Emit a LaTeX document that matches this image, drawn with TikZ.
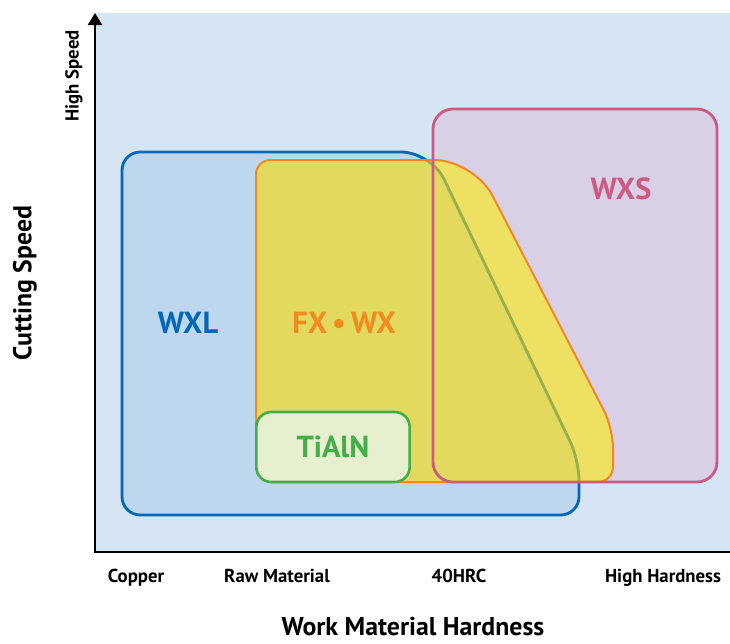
\documentclass[tikz,border=0pt]{standalone}
\usepackage{fontspec}
\setmainfont{PT Sans}
\usetikzlibrary{arrows.meta, positioning}
\definecolor{chartbg}{HTML}{D6E5F4}
\definecolor{wxlfill}{HTML}{BDD7EE}
\definecolor{wxlline}{HTML}{0068B6}
\definecolor{fxlight}{HTML}{EEE062}
\definecolor{fxdark}{HTML}{E3D95E}
\definecolor{fxline}{HTML}{F28A1E}
\definecolor{fxolive}{HTML}{9AAE4A}
\definecolor{wxsfill}{HTML}{DAD0E6}
\definecolor{wxsline}{HTML}{CD5A84}
\definecolor{tialnfill}{HTML}{E6F0CF}
\definecolor{tialnline}{HTML}{45AD4A}
\tikzset{
  zonelabel/.style={font=\bfseries\fontsize{26}{30}\selectfont, inner sep=0pt, anchor=base},
  ticklabel/.style={font=\bfseries\fontsize{16}{19}\selectfont, inner sep=0pt, anchor=base},
  axistitle/.style={font=\bfseries\fontsize{22}{26}\selectfont, inner sep=0pt, anchor=base},
  axisline/.style={line width=1.8pt, black},
  zoneline/.style={line width=2.4pt},
  tialnbox/.style={rectangle, rounded corners=0.45cm, draw=tialnline, fill=tialnfill, line width=2.2pt,
    minimum width=4.6cm, minimum height=2.1cm, text=tialnline, zonelabel, anchor=center},
}
\newcommand{\wxlshape}{(122,330) [rounded corners=0.55cm] -- (122,152) [rounded corners=0.9cm] -- (431,152)
  [rounded corners=0.6cm] -- (579,460) [rounded corners=0.55cm] -- (579,515) -- (122,515) -- cycle}
\newcommand{\fxshape}{(256,320) [rounded corners=0.42cm] -- (256,160) [rounded corners=1.2cm] -- (474,160)
  [rounded corners=0.6cm] -- (613,428) [rounded corners=0.45cm] -- (613,482) -- (256,482) -- cycle}

\begin{document}
\begin{tikzpicture}[x=0.03cm, y=-0.03cm]
  \useasboundingbox (0,0) rectangle (730,643);
  \fill[chartbg] (95,13) rectangle (730,552);

  \fill[wxsfill, rounded corners=0.6cm] (433,109) rectangle (717,482);
  \filldraw[wxlline, fill=wxlfill, zoneline] \wxlshape;
  \fill[fxlight] \fxshape;
  \begin{scope}
    \clip \wxlshape;
    \fill[fxdark] \fxshape;
  \end{scope}
  \begin{scope}
    \clip \fxshape;
    \draw[fxolive, zoneline] \wxlshape;
  \end{scope}
  \draw[fxline, line width=1.7pt] \fxshape;
  \draw[wxsline, zoneline, rounded corners=0.6cm] (433,109) rectangle (717,482);

  \node[zonelabel, text=wxlline] (wxl) at (188,333) {WXL};
  \node[zonelabel, text=fxline] (fxwx) at (344,333) {FX\,\textbullet\,WX};
  \node[zonelabel, text=wxsline] (wxs) at (621,199) {WXS};
  \node[tialnbox] (tialn) at (333,447) {TiAlN};

  \coordinate (origin) at (95,552);
  \coordinate (ytip) at (95,13);
  \coordinate (xend) at (730,552);
  \draw[axisline, -{Triangle[length=0.36cm, width=0.42cm]}] (xend) -- (origin) -- (ytip);

  \node[ticklabel] (copper) at (136,582) {Copper};
  \node[ticklabel] (raw) at (277,582) {Raw Material};
  \node[ticklabel] (hrc) at (459,582) {40HRC};
  \node[ticklabel] (hard) at (663,582) {High Hardness};
  \node[axistitle] (xtitle) at (413,635) {Work Material Hardness};
  \node[axistitle, rotate=90, anchor=center] (ytitle) at (25,283) {Cutting Speed};
  \node[ticklabel, rotate=90, anchor=center] (fast) at (74,76) {High Speed};
\end{tikzpicture}
\end{document}
